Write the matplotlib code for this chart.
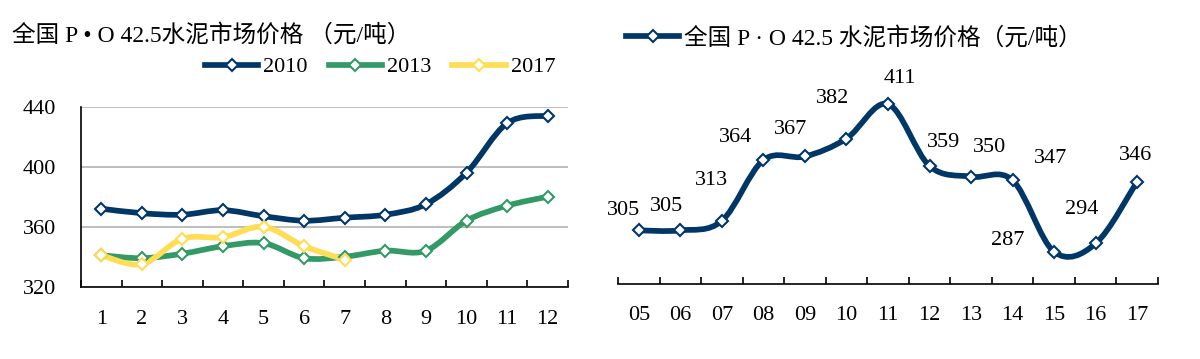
import numpy as np
import matplotlib
matplotlib.use("Agg")
import matplotlib.pyplot as plt
from matplotlib.path import Path
from matplotlib.patches import PathPatch
from matplotlib.lines import Line2D

plt.rcParams['font.family'] = ['Liberation Serif', 'Noto Sans CJK SC']
plt.rcParams['font.size'] = 16

# left chart: monthly price by year
months = [str(m) for m in range(1, 13)]
p2010 = [372, 369, 368, 371, 367, 364, 366, 368, 375, 396, 429, 434]
p2013 = [341, 339, 342, 347, 349, 339, 340, 344, 344, 364, 374, 380]
p2017 = [341, 335, 352, 353, 360, 347, 338]

# right chart: yearly price
years = ["05", "06", "07", "08", "09", "10", "11", "12", "13", "14", "15", "16", "17"]
yearly = [305, 305, 313, 364, 367, 382, 411, 359, 350, 347, 287, 294, 346]
# label offsets in pixels (placement only)
lab_off = [(-15, 20), (-14, 24), (-10, 40), (-28, 23), (-14, 27), (-14, 40), (12, 26),
           (14, 24), (18, 29), (38, 22), (-46, 11), (-14, 34), (-2, 26)]

NAVY = "#003767"
GREEN = "#339966"
YELLOW = "#FFDD55"
LW = 4.1
MS = 5.9


def smooth_line(ax, x, y, color):
    # excel-like smoothed line via cubic bezier segments
    x = np.asarray(x, float)
    y = np.asarray(y, float)
    n = len(x)
    verts = [(x[0], y[0])]
    codes = [Path.MOVETO]
    for i in range(n - 1):
        i0 = max(i - 1, 0)
        i3 = min(i + 2, n - 1)
        c1 = (x[i] + (x[i + 1] - x[i0]) / 6, y[i] + (y[i + 1] - y[i0]) / 6)
        c2 = (x[i + 1] - (x[i3] - x[i]) / 6, y[i + 1] - (y[i3] - y[i]) / 6)
        verts += [c1, c2, (x[i + 1], y[i + 1])]
        codes += [Path.CURVE4] * 3
    ax.add_patch(PathPatch(Path(verts, codes), fill=False, edgecolor=color,
                           lw=LW, capstyle='round', joinstyle='round', zorder=2))
    ax.plot(x, y, 'D', ms=MS, mfc='white', mec=color, mew=1.5, zorder=3)


def handle(c):
    return Line2D([], [], color=c, lw=LW, marker='D', ms=MS, mfc='white', mec=c, mew=1.5)


fig = plt.figure(figsize=(12, 3.59), dpi=100)

# ---- left
ax1 = fig.add_axes([0.0675, 0.2014, 0.4058, 0.5014])
xs = np.arange(1, 13)
smooth_line(ax1, xs, p2010, NAVY)
smooth_line(ax1, xs, p2013, GREEN)
smooth_line(ax1, xs[:len(p2017)], p2017, YELLOW)
ax1.set_xlim(0.5, 12.5)
ax1.set_ylim(320, 440)
ax1.set_yticks([320, 360, 400, 440])
ax1.yaxis.grid(True, color='#b3b3b3', lw=1.2)
ax1.set_axisbelow(True)
ax1.set_xticks(xs)
ax1.set_xticklabels(months)
ax1.set_xticks(np.arange(0.5, 13, 1), minor=True)
ax1.tick_params(axis='x', which='major', length=0, pad=17)
ax1.tick_params(axis='x', which='minor', direction='in', length=5, width=1.2)
ax1.tick_params(axis='y', length=0, pad=18)
for s in ['top', 'right']:
    ax1.spines[s].set_visible(False)
for s in ['left', 'bottom']:
    ax1.spines[s].set_linewidth(1.2)

fig.text(12 / 1200, 1 - 35 / 359, "全国 P • O 42.5水泥市场价格 （元/吨）",
         ha='left', va='center', fontsize=17)

fig.legend([handle(c) for c in (NAVY, GREEN, YELLOW)], ["2010", "2013", "2017"],
           loc='center', ncol=3, bbox_to_anchor=(380 / 1200, 1 - 67 / 359), frameon=False,
           handlelength=2.4, handletextpad=0.22, columnspacing=0.95,
           borderpad=0, borderaxespad=0, fontsize=16)

# ---- right
ax2 = fig.add_axes([618 / 1200, 1 - 284 / 359, 540 / 1200, 0.5975])
xr = np.arange(len(yearly))
smooth_line(ax2, xr, yearly, NAVY)
ax2.set_xlim(-0.5, len(yearly) - 0.5)
ax2.set_ylim(260, 440)
ax2.set_xticks(xr)
ax2.set_xticklabels(years)
ax2.set_xticks(np.arange(-0.5, len(yearly), 1), minor=True)
ax2.tick_params(axis='x', which='major', length=0, pad=16)
ax2.tick_params(axis='x', which='minor', direction='in', length=5, width=1.2)
ax2.set_yticks([])
for s in ['top', 'right', 'left']:
    ax2.spines[s].set_visible(False)
ax2.spines['bottom'].set_linewidth(1.2)
for i, v in enumerate(yearly):
    ax2.annotate(str(v), (i, v), xytext=lab_off[i], textcoords='offset pixels',
                 ha='center', va='center', fontsize=16)

fig.legend([handle(NAVY)], ["全国 P · O 42.5 水泥市场价格（元/吨）"], loc='center left',
           bbox_to_anchor=(626 / 1200, 1 - 38 / 359), frameon=False,
           handlelength=2.25, handletextpad=0.22, borderpad=0, borderaxespad=0, fontsize=17)

fig.savefig("out.png", dpi=100)
